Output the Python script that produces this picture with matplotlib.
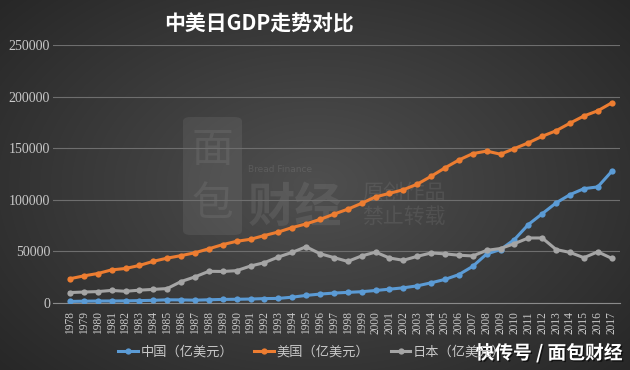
import matplotlib
matplotlib.use('Agg')
from matplotlib import pyplot as plt
from matplotlib.patches import FancyBboxPatch
import matplotlib.patheffects as pe
import numpy as np

plt.rcParams['font.family'] = ['Liberation Serif', 'Noto Sans CJK SC']

years = list(range(1978, 2018))

# GDP, 亿美元
china = [1495, 1783, 1911, 1958, 2050, 2306, 2599, 3094, 3007, 2729,
         3123, 3477, 3609, 3834, 4269, 4447, 5644, 7345, 8637, 9616,
         10290, 10940, 12113, 13394, 14705, 16603, 19553, 22860, 27521, 35522,
         47500, 51800, 61500, 76000, 86500, 97000, 105000, 110800, 112500, 127500]
usa = [23516, 26273, 28573, 32074, 33453, 36383, 40406, 43469, 45902, 48702,
       52528, 56579, 59796, 61740, 65393, 68787, 73088, 76640, 81002, 86085,
       90891, 96606, 102848, 106218, 109775, 115107, 122749, 130937, 138559, 144776,
       147186, 144187, 149644, 155179, 161552, 166915, 174276, 181207, 186245, 193906]
japan = [10130, 10630, 11050, 12180, 11340, 12430, 13180, 13990, 20780, 25320,
         30710, 30540, 31330, 35840, 39090, 44540, 49070, 54490, 47800, 44000,
         40300, 45600, 49300, 43600, 41400, 45200, 48500, 47600, 46300, 45600,
         51000, 52800, 57500, 63000, 63000, 51800, 49000, 43900, 49600, 43300]

series = [('中国（亿美元）', china, '#5b9bd5'),
          ('美国（亿美元）', usa, '#ed7d31'),
          ('日本（亿美元）', japan, '#a5a5a5')]

cjk = 'Noto Sans CJK SC'

fig = plt.figure(figsize=(6.3, 3.7), dpi=100)

# dark radial background
bg = fig.add_axes([0, 0, 1, 1], zorder=-5)
gx, gy = np.meshgrid(np.linspace(-1, 1, 630), np.linspace(-1, 1, 370))
r = np.sqrt((gx * 0.9) ** 2 + (gy * 0.8) ** 2)
shade = 0.31 - 0.13 * np.clip(r, 0, 1.3)
bg.imshow(np.dstack([shade, shade, shade]), aspect='auto', extent=[0, 1, 0, 1])
bg.set_xlim(0, 1)
bg.set_ylim(0, 1)
bg.axis('off')

# faint watermark
bg.add_patch(FancyBboxPatch((183 / 630, 1 - 235 / 370), 59 / 630, 118 / 370,
                            boxstyle='round,pad=0,rounding_size=0.012',
                            fc='#ffffff', alpha=0.07, ec='none'))
bg.text(212 / 630, 1 - 150 / 370, '面', fontsize=30, color='#ffffff', alpha=0.07,
        family=cjk, ha='center', va='center')
bg.text(212 / 630, 1 - 205 / 370, '包', fontsize=30, color='#ffffff', alpha=0.07,
        family=cjk, ha='center', va='center')
bg.text(295 / 630, 1 - 208 / 370, '财经', fontsize=34, color='#ffffff', alpha=0.08,
        family=cjk, weight='bold', ha='center', va='center')
bg.text(280 / 630, 1 - 169 / 370, 'Bread Finance', fontsize=6.5, color='#ffffff',
        alpha=0.1, family='DejaVu Sans', ha='center', va='center')
bg.text(404 / 630, 1 - 205 / 370, '原创作品\n禁止转载', fontsize=15, color='#ffffff',
        alpha=0.08, family=cjk, ha='center', va='center', linespacing=1.1)

ax = fig.add_axes([53 / 630, 1 - 303 / 370, 567 / 630, 258 / 370])
ax.patch.set_alpha(0)

for name, vals, col in series:
    ax.plot(years, vals, color=col, lw=2.2, marker='o', ms=4.5,
            markeredgewidth=0, label=name, zorder=3)

ax.set_ylim(0, 250000)
ax.set_xlim(1978 - 1.22, 2017 + 0.6)
ax.set_yticks(range(0, 250001, 50000))
ax.set_xticks(years)
ax.set_xticklabels([str(y) for y in years], rotation=90)
ax.grid(axis='y', color='#6e6e6e', lw=0.8)
ax.set_axisbelow(True)
for s in ['top', 'right', 'left']:
    ax.spines[s].set_visible(False)
ax.spines['bottom'].set_color('#8a8a8a')
ax.tick_params(length=0, colors='#c8c8c8')
ax.tick_params(axis='y', pad=2, labelsize=10)
ax.tick_params(axis='x', pad=6, labelsize=8.3)

fig.text(259 / 630, 1 - 24 / 370, '中美日GDP走势对比', fontsize=15, color='white',
         family=cjk, weight='bold', ha='center', va='center')

leg = fig.legend(loc='center', bbox_to_anchor=(312 / 630, 1 - 352 / 370), ncol=3,
                 frameon=False, handlelength=1.5, handletextpad=0.2, columnspacing=1.6,
                 prop={'family': cjk, 'size': 9.5})
for t in leg.get_texts():
    t.set_color('#c8c8c8')

fig.text(549 / 630, 1 - 353 / 370, '快传号 / 面包财经', fontsize=13.5, color='white',
         family=cjk, weight='bold', ha='center', va='center',
         path_effects=[pe.withSimplePatchShadow(offset=(1, -1), shadow_rgbFace='black', alpha=0.6)])

fig.savefig('out.png', dpi=100)
